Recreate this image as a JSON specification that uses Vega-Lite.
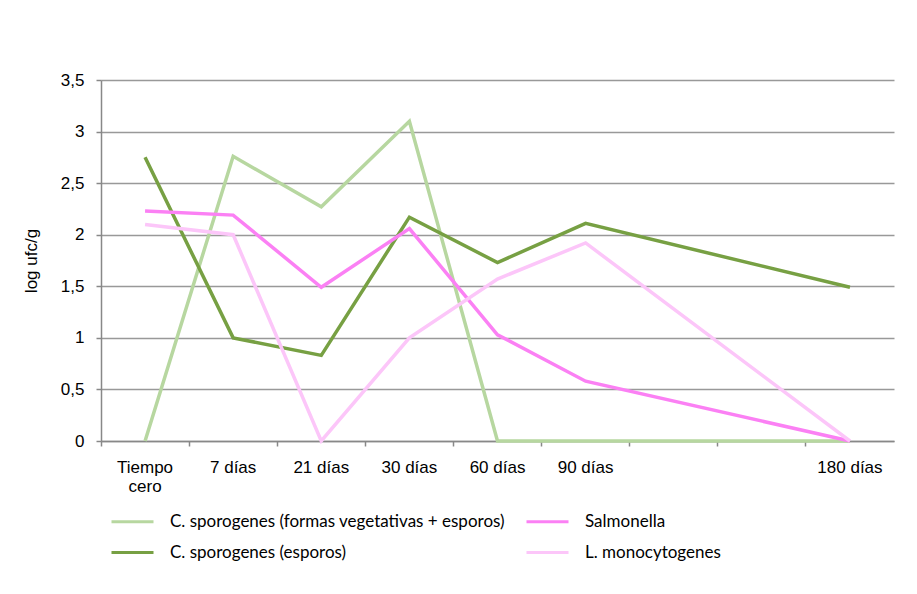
{
  "$schema": "https://vega.github.io/schema/vega-lite/v6.json",
  "autosize": {"type": "none"},
  "width": 793,
  "height": 361,
  "padding": {"left": 101, "top": 80, "right": 23, "bottom": 153},
  "background": "white",
  "config": {
    "view": {"stroke": null},
    "font": "Liberation Sans",
    "axis": {"labelFont": "Liberation Sans", "labelFontSize": 17, "labelColor": "#000", "titleFont": "Liberation Sans", "titleFontSize": 17, "titleFontWeight": "normal", "titleColor": "#000", "domainColor": "#888", "domainWidth": 1.5, "tickColor": "#888", "tickWidth": 1.5, "tickSize": 5, "gridColor": "#999", "gridWidth": 1.5}
  },
  "data": {"values": [
    {"serie": "C. sporogenes (formas vegetativas + esporos)", "tiempo": "Tiempo cero", "log": 0},
    {"serie": "C. sporogenes (formas vegetativas + esporos)", "tiempo": "7 días", "log": 2.76},
    {"serie": "C. sporogenes (formas vegetativas + esporos)", "tiempo": "21 días", "log": 2.27},
    {"serie": "C. sporogenes (formas vegetativas + esporos)", "tiempo": "30 días", "log": 3.1},
    {"serie": "C. sporogenes (formas vegetativas + esporos)", "tiempo": "60 días", "log": 0},
    {"serie": "C. sporogenes (formas vegetativas + esporos)", "tiempo": "90 días", "log": 0},
    {"serie": "C. sporogenes (formas vegetativas + esporos)", "tiempo": "180 días", "log": 0},
    {"serie": "C. sporogenes (esporos)", "tiempo": "Tiempo cero", "log": 2.75},
    {"serie": "C. sporogenes (esporos)", "tiempo": "7 días", "log": 1.0},
    {"serie": "C. sporogenes (esporos)", "tiempo": "21 días", "log": 0.83},
    {"serie": "C. sporogenes (esporos)", "tiempo": "30 días", "log": 2.17},
    {"serie": "C. sporogenes (esporos)", "tiempo": "60 días", "log": 1.73},
    {"serie": "C. sporogenes (esporos)", "tiempo": "90 días", "log": 2.11},
    {"serie": "C. sporogenes (esporos)", "tiempo": "180 días", "log": 1.49},
    {"serie": "Salmonella", "tiempo": "Tiempo cero", "log": 2.23},
    {"serie": "Salmonella", "tiempo": "7 días", "log": 2.19},
    {"serie": "Salmonella", "tiempo": "21 días", "log": 1.49},
    {"serie": "Salmonella", "tiempo": "30 días", "log": 2.06},
    {"serie": "Salmonella", "tiempo": "60 días", "log": 1.03},
    {"serie": "Salmonella", "tiempo": "90 días", "log": 0.58},
    {"serie": "Salmonella", "tiempo": "180 días", "log": 0},
    {"serie": "L. monocytogenes", "tiempo": "Tiempo cero", "log": 2.1},
    {"serie": "L. monocytogenes", "tiempo": "7 días", "log": 2.0},
    {"serie": "L. monocytogenes", "tiempo": "21 días", "log": 0},
    {"serie": "L. monocytogenes", "tiempo": "30 días", "log": 1.0},
    {"serie": "L. monocytogenes", "tiempo": "60 días", "log": 1.57},
    {"serie": "L. monocytogenes", "tiempo": "90 días", "log": 1.92},
    {"serie": "L. monocytogenes", "tiempo": "180 días", "log": 0}
  ]},
  "mark": {"type": "line", "strokeWidth": 3.5, "strokeJoin": "miter"},
  "encoding": {
    "x": {
      "field": "tiempo", "type": "nominal", "bandPosition": 0.5,
      "scale": {"type": "band", "domain": ["Tiempo cero", "7 días", "21 días", "30 días", "60 días", "90 días", "_a", "_b", "180 días"], "paddingInner": 0, "paddingOuter": 0},
      "axis": {"title": null, "labelAngle": 0, "bandPosition": 0, "labelPadding": 13, "labelLineHeight": 19, "labelExpr": "datum.value == 'Tiempo cero' ? ['Tiempo', 'cero'] : (indexof(datum.value, '_') == 0 ? '' : datum.value)", "grid": false}
    },
    "y": {
      "field": "log", "type": "quantitative",
      "scale": {"domain": [0, 3.5]},
      "axis": {"title": "log ufc/g", "values": [0, 0.5, 1, 1.5, 2, 2.5, 3, 3.5], "labelExpr": "replace(format(datum.value, ''), '.', ',')", "labelPadding": 12, "titlePadding": 20, "grid": true}
    },
    "color": {
      "field": "serie", "type": "nominal",
      "scale": {"domain": ["C. sporogenes (formas vegetativas + esporos)", "C. sporogenes (esporos)", "Salmonella", "L. monocytogenes"], "range": ["#b7d7a0", "#77a043", "#fb80f4", "#fcc6f9"]},
      "legend": {"title": null, "orient": "none", "legendX": 9, "legendY": 419, "columns": 2, "columnPadding": 15, "rowPadding": 0, "symbolType": "stroke", "symbolSize": 1764, "symbolStrokeWidth": 3, "labelFont": "Lato", "labelFontSize": 17, "labelColor": "#000", "labelOffset": 15, "labelLimit": 0}
    }
  }
}
